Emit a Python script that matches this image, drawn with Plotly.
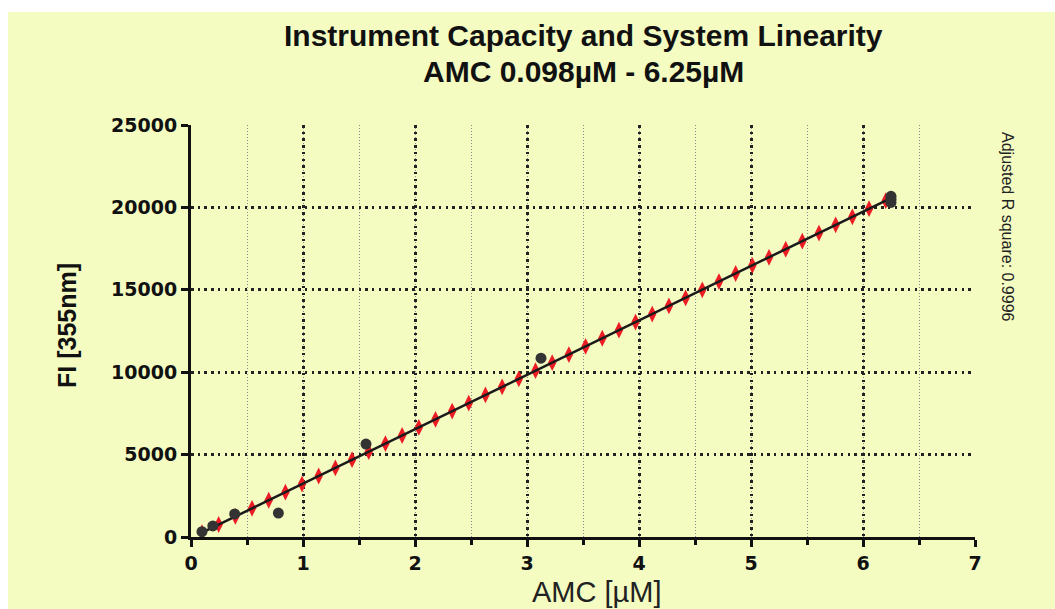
import plotly.graph_objects as go

# AMC dilution series: measured fluorescence intensity
amc_conc = [0.098, 0.195, 0.39, 0.78, 1.5625, 3.125, 6.25, 6.25, 6.25]
fi_measured = [320, 670, 1400, 1450, 5640, 10850, 20300, 20490, 20670]

# Points of the fitted straight line
fit_x = [0.098, 0.247, 0.396, 0.545, 0.694, 0.843, 0.991, 1.140, 1.289, 1.438,
         1.587, 1.736, 1.885, 2.034, 2.183, 2.332, 2.480, 2.629, 2.778, 2.927,
         3.076, 3.225, 3.374, 3.523, 3.672, 3.821, 3.969, 4.118, 4.267, 4.416,
         4.565, 4.714, 4.863, 5.012, 5.161, 5.310, 5.458, 5.607, 5.756, 5.905,
         6.054, 6.203]
fit_y = [260, 760, 1250, 1740, 2230, 2720, 3210, 3700, 4190, 4690,
         5180, 5670, 6160, 6650, 7140, 7640, 8120, 8620, 9110, 9600,
         10090, 10580, 11070, 11570, 12060, 12550, 13040, 13530, 14020, 14510,
         15000, 15500, 15990, 16480, 16970, 17460, 17950, 18440, 18940, 19430,
         19920, 20410]

# Regression line end points
line_x = [0.098, 6.25]
line_y = [260, 20570]

x_ticks = [0, 1, 2, 3, 4, 5, 6, 7]
y_ticks = [0, 5000, 10000, 15000, 20000, 25000]

title_line1 = "Instrument Capacity and System Linearity"
title_line2 = "AMC 0.098µM - 6.25µM"
x_title = "AMC [µM]"
y_title = "FI [355nm]"
fit_note = "Adjusted R square: 0.9996"

BG = "#f4fcc2"
INK = "#111111"

fig = go.Figure()

fig.add_trace(go.Scatter(
    x=fit_x, y=fit_y, mode="markers",
    marker=dict(symbol="diamond-tall", size=12, color="#ec1c24", line=dict(width=0)),
    hoverinfo="skip", showlegend=False,
))
fig.add_trace(go.Scatter(
    x=line_x, y=line_y, mode="lines",
    line=dict(color="#1a1a1a", width=2.5),
    hoverinfo="skip", showlegend=False,
))
fig.add_trace(go.Scatter(
    x=amc_conc, y=fi_measured, mode="markers",
    marker=dict(symbol="circle", size=11, color="#333333", line=dict(width=0)),
    showlegend=False,
))

tick_font = dict(family="DejaVu Sans", size=19, color=INK, weight="bold")
major_dash = "2.5px,4.2px"

fig.update_xaxes(
    range=[0, 7], tickvals=x_ticks, ticktext=[str(v) for v in x_ticks],
    showline=True, linecolor=INK, linewidth=3,
    ticks="outside", ticklen=7, tickwidth=3, tickcolor=INK,
    tickfont=tick_font,
    showgrid=True, gridcolor="#222222", gridwidth=2.5, griddash=major_dash,
    zeroline=False,
    minor=dict(dtick=0.5, tick0=0, ticks="outside", ticklen=5, tickwidth=3,
               tickcolor=INK, showgrid=True, gridcolor="#8a8a8a",
               gridwidth=1, griddash="1px,2px"),
)
fig.update_yaxes(
    range=[0, 25000], tickvals=y_ticks, ticktext=[str(v) for v in y_ticks],
    showline=True, linecolor=INK, linewidth=3,
    ticks="outside", ticklen=7, tickwidth=3, tickcolor=INK,
    tickfont=tick_font,
    showgrid=True, gridcolor="#222222", gridwidth=2.5, griddash=major_dash,
    zeroline=False,
)

L, R, T, B = 191, 80, 125, 72
W, H = 1055, 609
pw, ph = W - L - R, H - T - B


def px_x(p):
    return (p - L) / pw


def px_y(p):
    return (H - B - p) / ph


annotations = [
    dict(text=title_line1, x=px_x(583), y=px_y(35), xref="paper", yref="paper",
         showarrow=False, xanchor="center", yanchor="middle",
         font=dict(family="Liberation Sans", size=30, color=INK, weight="bold")),
    dict(text=title_line2, x=px_x(583), y=px_y(72), xref="paper", yref="paper",
         showarrow=False, xanchor="center", yanchor="middle",
         font=dict(family="Liberation Sans", size=30, color=INK, weight="bold")),
    dict(text=x_title, x=px_x(596), y=px_y(592), xref="paper", yref="paper",
         showarrow=False, xanchor="center", yanchor="middle",
         font=dict(family="Liberation Sans", size=29, color="#222222")),
    dict(text=y_title, x=px_x(67), y=px_y(326), xref="paper", yref="paper",
         showarrow=False, xanchor="center", yanchor="middle", textangle=-90,
         font=dict(family="Liberation Sans", size=25, color=INK, weight="bold")),
    dict(text=fit_note, x=px_x(1008), y=px_y(227), xref="paper", yref="paper",
         showarrow=False, xanchor="center", yanchor="middle", textangle=90,
         font=dict(family="Liberation Sans", size=16, color="#222222")),
]

shapes = [
    # white strips along the top and left edges of the page
    dict(type="rect", xref="paper", yref="paper", layer="below",
         x0=px_x(-5), x1=px_x(W + 5), y0=px_y(12), y1=px_y(-5),
         fillcolor="white", line=dict(width=0)),
    dict(type="rect", xref="paper", yref="paper", layer="below",
         x0=px_x(-5), x1=px_x(8), y0=px_y(H + 5), y1=px_y(-5),
         fillcolor="white", line=dict(width=0)),
]

fig.update_layout(
    width=W, height=H,
    margin=dict(l=L, r=R, t=T, b=B),
    paper_bgcolor=BG, plot_bgcolor="rgba(0,0,0,0)",
    annotations=annotations, shapes=shapes,
    showlegend=False,
)

fig.write_html("out.html")
